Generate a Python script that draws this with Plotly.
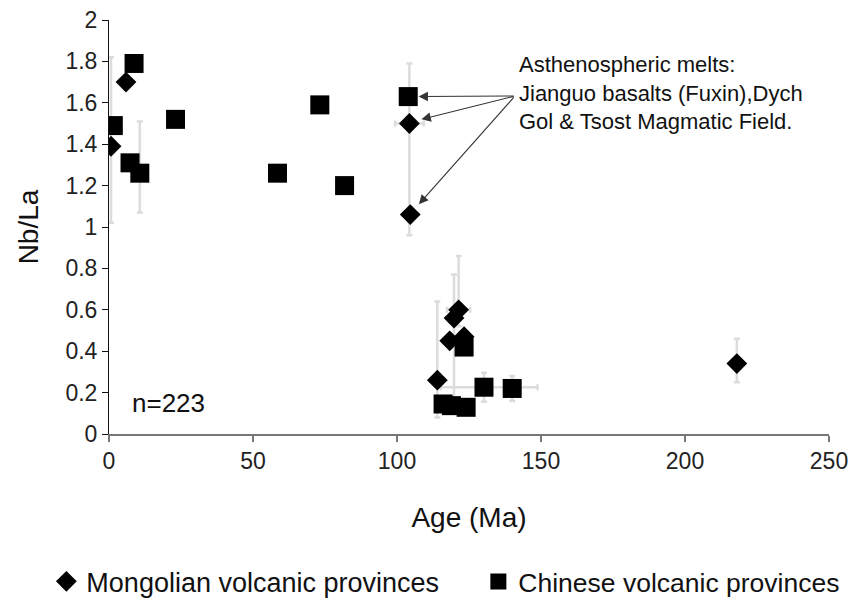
import plotly.graph_objects as go

# ---- data ----
mong_age = [0.7, 5.9, 104.3, 104.6, 114.0, 118.3, 119.8, 121.4, 123.3, 218.0]
mong_nbla = [1.39, 1.70, 1.50, 1.06, 0.26, 0.45, 0.56, 0.60, 0.47, 0.34]
mong_err_up = [0.43, 0, 0.29, 0, 0.38, 0, 0.21, 0.26, 0, 0.12]
mong_err_dn = [0.37, 0, 0.54, 0, 0.18, 0, 0.44, 0.08, 0, 0.09]
mong_age_err = [0, 0, 5, 0, 0, 0, 0, 4, 0, 0]

chin_age = [1.5, 7.3, 8.7, 10.7, 23.1, 58.5, 73.2, 81.8, 103.9, 116.0, 118.9, 123.3, 124.0, 130.2, 140.0]
chin_nbla = [1.49, 1.31, 1.79, 1.26, 1.52, 1.26, 1.59, 1.20, 1.63, 0.145, 0.137, 0.42, 0.129, 0.226, 0.22]
chin_err_up = [0, 0, 0, 0.25, 0, 0, 0, 0, 0, 0, 0, 0, 0, 0.07, 0.06]
chin_err_dn = [0, 0, 0, 0.19, 0, 0, 0, 0, 0, 0, 0, 0, 0, 0.07, 0.06]
chin_age_err_up = [0]*13 + [18.6, 0]
chin_age_err_dn = [0]*13 + [15.0, 0]

x_ticks = [0, 50, 100, 150, 200, 250]
y_ticks = [0, 0.2, 0.4, 0.6, 0.8, 1, 1.2, 1.4, 1.6, 1.8, 2]

# indices of the asthenospheric-melt points the arrows point at
arrow_targets = [("chin", 8, 3.6, 0.0), ("mong", 2, 4.2, 0.02), ("mong", 3, 3.0, 0.05)]
arrow_tail = (141.0, 1.633)

FONT = "Liberation Sans, Arial, sans-serif"
ERR = "#dcdcdc"

fig = go.Figure()

# error bars (drawn below all markers)
fig.add_trace(go.Scatter(
    x=mong_age, y=mong_nbla, mode="markers", marker=dict(opacity=0, size=1),
    error_y=dict(type="data", symmetric=False, array=mong_err_up, arrayminus=mong_err_dn,
                 color=ERR, thickness=2.5, width=3),
    error_x=dict(type="data", array=mong_age_err, color=ERR, thickness=2.5, width=3),
    showlegend=False, hoverinfo="skip"))
fig.add_trace(go.Scatter(
    x=chin_age, y=chin_nbla, mode="markers", marker=dict(opacity=0, size=1),
    error_y=dict(type="data", symmetric=False, array=chin_err_up, arrayminus=chin_err_dn,
                 color=ERR, thickness=2.5, width=3),
    error_x=dict(type="data", symmetric=False, array=chin_age_err_up, arrayminus=chin_age_err_dn,
                 color=ERR, thickness=2.5, width=3),
    showlegend=False, hoverinfo="skip"))

fig.add_trace(go.Scatter(
    x=mong_age, y=mong_nbla, mode="markers", name="Mongolian volcanic provinces",
    legend="legend",
    marker=dict(symbol="diamond", size=16, color="black", line=dict(width=0))))
fig.add_trace(go.Scatter(
    x=chin_age, y=chin_nbla, mode="markers", name="Chinese volcanic provinces",
    legend="legend2",
    marker=dict(symbol="square", size=19, color="black", line=dict(width=0))))

series = {"mong": (mong_age, mong_nbla), "chin": (chin_age, chin_nbla)}
for key, i, dx, dy in arrow_targets:
    xs, ys = series[key]
    fig.add_annotation(x=xs[i] + dx, y=ys[i] + dy, ax=arrow_tail[0], ay=arrow_tail[1],
                       xref="x", yref="y", axref="x", ayref="y", text="",
                       showarrow=True, arrowhead=2, arrowsize=1.7, arrowwidth=1.1,
                       arrowcolor="#333")

fig.add_annotation(x=141.8, y=1.855, xref="x", yref="y", xanchor="left", yanchor="top",
                   text="Asthenospheric melts:<br>Jianguo basalts (Fuxin),Dych<br>Gol &amp; Tsost Magmatic Field.",
                   showarrow=False, align="left", font=dict(family=FONT, size=22, color="#111"))
fig.add_annotation(x=7.3, y=0.15, xref="x", yref="y", xanchor="left", yanchor="middle",
                   text="n=223", showarrow=False, font=dict(family=FONT, size=26, color="#111"))

legend_common = dict(orientation="h", y=-0.357, xanchor="left", yanchor="middle",
                     itemclick=False, bgcolor="rgba(0,0,0,0)")

fig.update_layout(
    width=848, height=592,
    margin=dict(l=101, r=27, t=12, b=166, autoexpand=False),
    plot_bgcolor="white", paper_bgcolor="white",
    font=dict(family=FONT, color="#111"),
    showlegend=True,
    legend=dict(x=-0.087, font=dict(family=FONT, size=27, color="#111"), **legend_common),
    legend2=dict(x=0.513, font=dict(family=FONT, size=26.5, color="#111"), **legend_common),
    xaxis=dict(range=[0, 250], tickvals=x_ticks, showgrid=False, zeroline=False,
               showline=True, linecolor="#777", linewidth=1.5,
               ticks="outside", ticklen=6, tickcolor="#777", tickwidth=1.5,
               ticklabeloverflow="allow",
               tickfont=dict(family=FONT, size=23, color="#222"),
               title=dict(text="Age (Ma)", font=dict(family=FONT, size=28, color="#111"), standoff=34)),
    yaxis=dict(range=[0, 2], tickvals=y_ticks, showgrid=False, zeroline=False,
               showline=True, linecolor="#111", linewidth=1,
               ticks="outside", ticklen=6, tickcolor="#111",
               ticklabeloverflow="allow",
               tickfont=dict(family=FONT, size=23, color="#222"),
               title=dict(text="Nb/La", font=dict(family=FONT, size=28, color="#111"), standoff=18)),
)

fig.write_html("out.html")
